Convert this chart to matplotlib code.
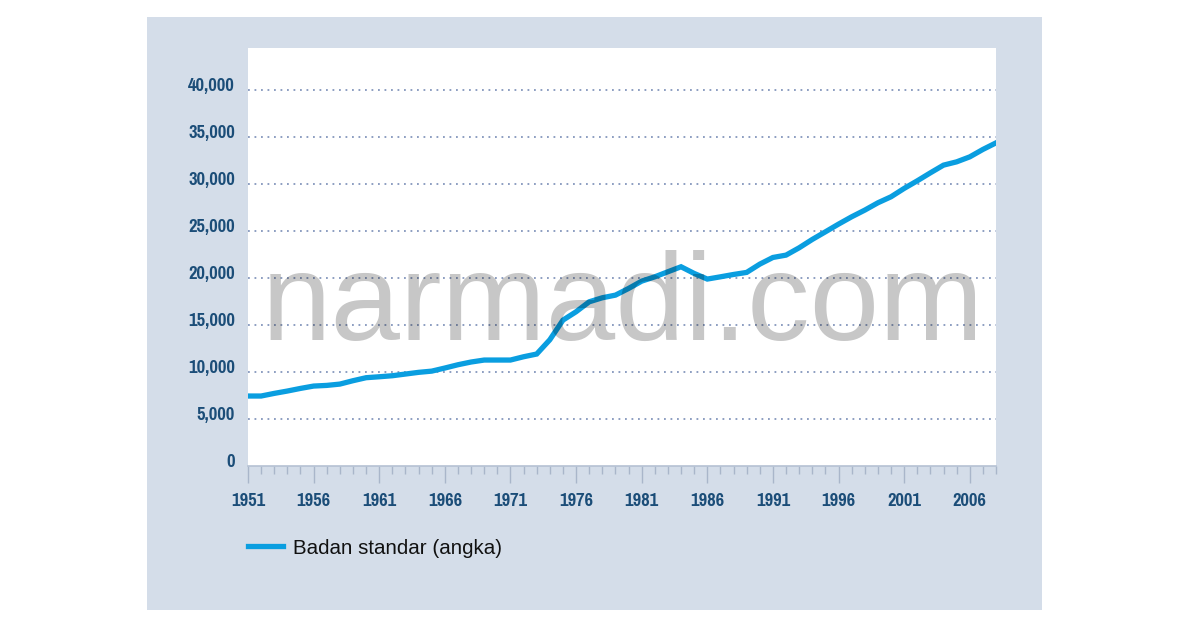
"""
Badan standar (angka), 1951-2008.
"""

import matplotlib.pyplot as plt
from matplotlib import font_manager
from matplotlib.transforms import ScaledTranslation

years = list(range(1951, 2009))
values = [7450, 7450, 7730, 7980, 8260, 8510, 8580, 8720, 9080, 9400,
          9500, 9610, 9790, 9970, 10100, 10430, 10780, 11070, 11280, 11280,
          11280, 11630, 11920, 13440, 15530, 16420, 17480, 17910, 18190, 18900,
          19680, 20140, 20680, 21210, 20500, 19900, 20140, 20390, 20610, 21490,
          22200, 22450, 23230, 24120, 24930, 25750, 26530, 27240, 28020, 28660,
          29550, 30360, 31210, 32030, 32380, 32910, 33700, 34400]
y_ticks = [0, 5000, 10000, 15000, 20000, 25000, 30000, 35000, 40000]
x_labels = list(range(1951, 2007, 5))
legend_label = 'Badan standar (angka)'
watermark = 'narmadi.com'

W, H = 1200, 630
navy = '#1b4d78'
line_blue = '#0a9ee0'
panel = '#d4dde9'
tick_col = '#a9b6ca'

# narrow bold face for tick labels, if one is installed
narrow = [f.fname for f in font_manager.fontManager.ttflist if 'Narrow-Bold.' in f.fname]
cond = [f.fname for f in font_manager.fontManager.ttflist if 'Condensed-Bold.' in f.fname]
if narrow:
    tick_prop = font_manager.FontProperties(fname=narrow[0], size=14.5)
elif cond:
    tick_prop = font_manager.FontProperties(fname=cond[0], size=11.5)
else:
    tick_prop = font_manager.FontProperties(family='DejaVu Sans', weight='bold', size=10.5)

fig = plt.figure(figsize=(W / 100, H / 100), dpi=100)

# light panel behind the chart
bg = fig.add_axes([147 / W, 1 - 610 / H, 895 / W, 593 / H], zorder=0)
bg.set_facecolor(panel)
bg.set_xticks([])
bg.set_yticks([])
for s in bg.spines.values():
    s.set_visible(False)

ax = fig.add_axes([248 / W, 1 - 466 / H, 748 / W, 418 / H], zorder=1)
ax.set_facecolor('white')
ax.plot(years, values, color=line_blue, linewidth=3.8, solid_joinstyle='miter',
        label=legend_label, zorder=3)

ax.set_xlim(1951, 2008)
ax.set_ylim(0, 44500)

# dotted horizontal grid, skip the zero line
for v in y_ticks[1:]:
    ax.axhline(v, color='#8496bc', linewidth=1.3, linestyle=(0, (1, 2.6)), zorder=1)

ax.set_yticks(y_ticks)
ax.set_yticklabels([f'{v:,}' for v in y_ticks])
ax.set_xticks(x_labels)
ax.set_xticklabels([str(v) for v in x_labels])
ax.set_xticks(years, minor=True)

for lab in ax.get_yticklabels() + ax.get_xticklabels():
    lab.set_fontproperties(tick_prop)
    lab.set_color(navy)

ax.tick_params(axis='y', length=0, pad=9.5)
ax.tick_params(axis='x', which='major', length=12, width=1, color=tick_col, pad=7.5)
ax.tick_params(axis='x', which='minor', length=6, width=1, color=tick_col)

# y labels sit a little above their grid line
shift = ScaledTranslation(0, 4 / 72, fig.dpi_scale_trans)
for t in ax.yaxis.get_major_ticks():
    t.label1.set_transform(t.label1.get_transform() + shift)

for side in ['top', 'left', 'right']:
    ax.spines[side].set_visible(False)
ax.spines['bottom'].set_color('#b5c1d3')
ax.spines['bottom'].set_linewidth(1.2)

leg = ax.legend(loc='center left', bbox_to_anchor=(248 / W, 1 - 548 / H),
                bbox_transform=fig.transFigure,
                frameon=False, borderpad=0, borderaxespad=0, handlelength=1.7,
                handletextpad=0.5,
                prop={'family': ['Liberation Sans', 'DejaVu Sans'], 'size': 14.8})
for t in leg.get_texts():
    t.set_color('#111111')

ax.text(623 / W, 1 - 340 / H, watermark, transform=fig.transFigure, ha='center',
        va='baseline', fontsize=90, family=['Liberation Sans', 'DejaVu Sans'],
        color='black', alpha=0.22, zorder=10)

fig.savefig('out.png', dpi=100, facecolor='white')
